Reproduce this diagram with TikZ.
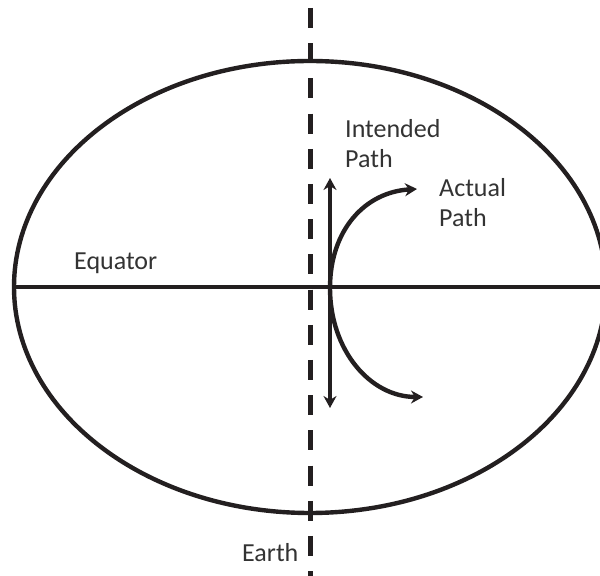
\documentclass[tikz,border=0pt]{standalone}
\usepackage{fontspec}
\setmainfont{Carlito}
\usetikzlibrary{arrows.meta,positioning,shapes.geometric}
\definecolor{inkgrey}{RGB}{35,31,32}
\definecolor{labelgrey}{RGB}{51,51,51}

\begin{document}
\begin{tikzpicture}[x=0.5pt,y=-0.5pt,line width=2.2pt,color=inkgrey,
    lbl/.style={inner sep=0pt, text=labelgrey, align=left,
      font=\fontsize{13}{15.3}\selectfont},
    axisline/.style={line width=2.5pt, dash pattern=on 10pt off 7.6pt},
    pathtip/.style={{Stealth[length=6pt,width=6.5pt]}-{Stealth[length=6pt,width=6.5pt]}}]
  \useasboundingbox (0,0) rectangle (600,576);
  \clip (0,0) rectangle (600,576);

  % the earth and its equator
  \node[draw, ellipse, minimum width=296pt, minimum height=226pt, inner sep=0pt]
    (earth) at (310,287) {};
  \draw (earth.west) -- (earth.east);

  % rotation axis
  \coordinate (axtop) at (310,8);
  \coordinate (axbot) at (310,580);
  \draw[axisline] (axtop) -- (axbot);

  % intended and actual paths
  \coordinate (pole) at (330,288);
  \coordinate (intendN) at (330,178);
  \coordinate (intendS) at (330,408);
  \coordinate (actualN) at (417,189);
  \coordinate (actualS) at (423,397);
  \draw[pathtip] (intendS) -- (intendN);
  \draw[pathtip] (actualN) .. controls (365,192) and (330,230) .. (pole)
    .. controls (330,350) and (370,397) .. (actualS);

  \node[lbl, anchor=north west] (intended) at (343,117) {Intended\\Path};
  \node[lbl, anchor=north west] (actual) at (437,176) {Actual\\Path};
  \node[lbl, anchor=base west] (equator) at (72,270) {Equator};
  \node[lbl, anchor=base west] (earthlbl) at (240,562) {Earth};
\end{tikzpicture}
\end{document}
